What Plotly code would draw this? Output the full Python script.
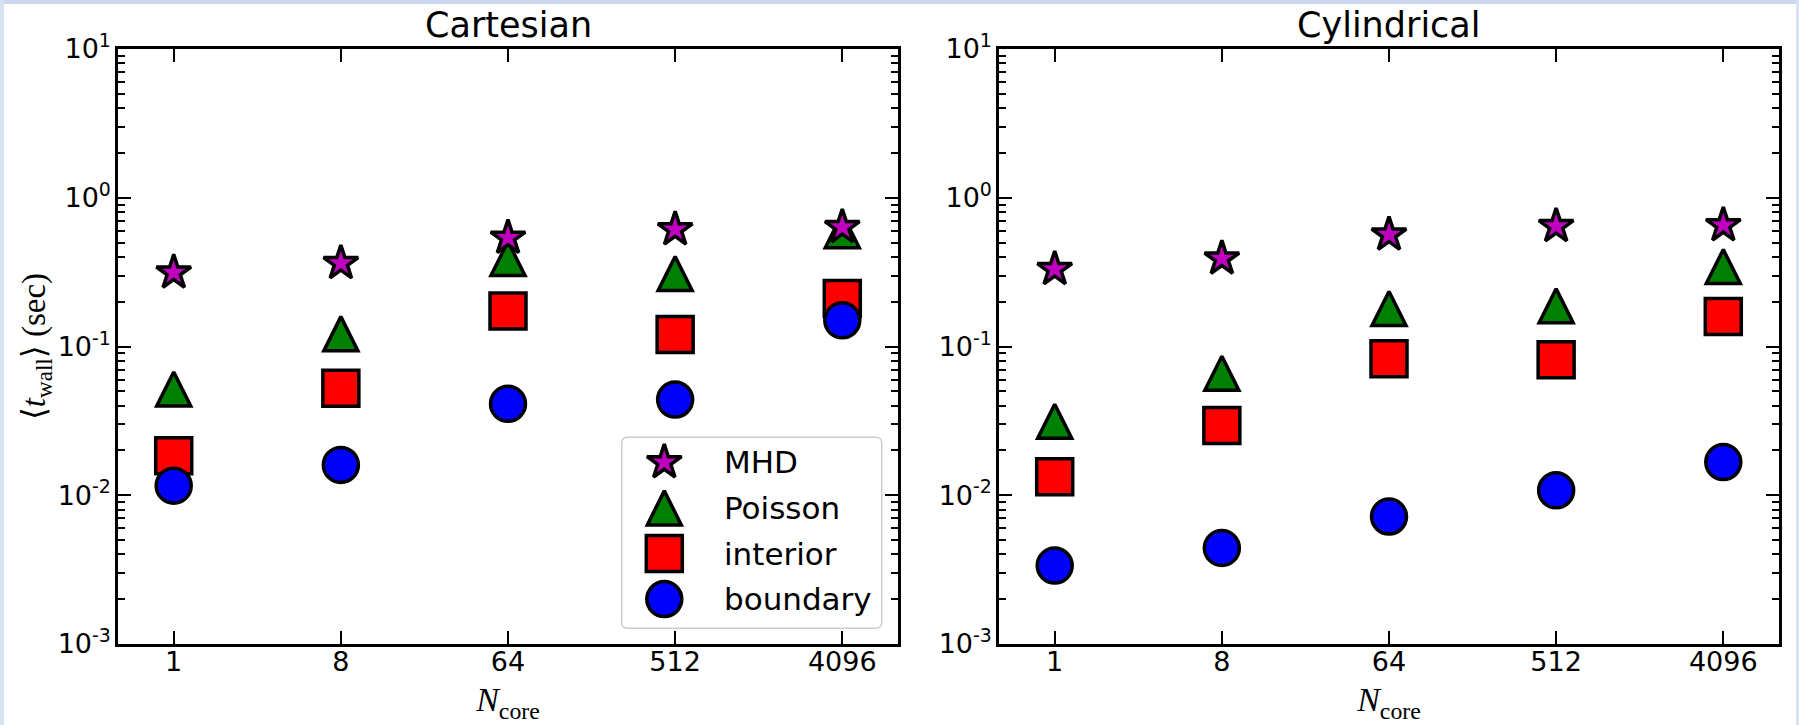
import math
import plotly.graph_objects as go

# ---------------- data ----------------
cores = [1, 8, 64, 512, 4096]
core_labels = ["1", "8", "64", "512", "4096"]
panel_titles = ["Cartesian", "Cylindrical"]
series_names = ["MHD", "Poisson", "interior", "boundary"]

cart_mhd = [0.314, 0.363, 0.538, 0.612, 0.634]
cart_poisson = [0.0518, 0.122, 0.39, 0.31, 0.60]
cart_interior = [0.0184, 0.0523, 0.173, 0.1205, 0.21]
cart_boundary = [0.0116, 0.0160, 0.0412, 0.0440, 0.150]

cyl_mhd = [0.331, 0.39, 0.565, 0.644, 0.653]
cyl_poisson = [0.0314, 0.066, 0.18, 0.188, 0.345]
cyl_interior = [0.0133, 0.0294, 0.0826, 0.0815, 0.159]
cyl_boundary = [0.00337, 0.00442, 0.00719, 0.0108, 0.0167]

y_tick_vals = [1e-3, 1e-2, 1e-1, 1e0, 1e1]
y_tick_text = ["10<sup>-3</sup>", "10<sup>-2</sup>", "10<sup>-1</sup>",
               "10<sup>0</sup>", "10<sup>1</sup>"]

# ---------------- layout constants ----------------
W, H = 1799, 725
ML, MR, MT, MB = 118, 20, 49, 81
PW = W - ML - MR
PH = H - MT - MB
PANEL_W = 780
GAP = PW - 2 * PANEL_W

SANS = "DejaVu Sans"
SERIF = "Liberation Serif, DejaVu Serif, serif"

styles = {
    "MHD": dict(symbol="star", color="#bf00bf", size=26),
    "Poisson": dict(symbol="arrow-down", color="#008000", size=34, angle=180, standoff=17),
    "interior": dict(symbol="square", color="#ff0000", size=36),
    "boundary": dict(symbol="circle", color="#0000ff", size=35),
}
draw_order = ["Poisson", "interior", "boundary", "MHD"]
EDGE_W = 3.5


def marker(name):
    s = styles[name]
    m = dict(symbol=s["symbol"], color=s["color"], size=s["size"],
             line=dict(color="black", width=EDGE_W))
    if "angle" in s:
        m["angle"] = s["angle"]
        m["standoff"] = s["standoff"]
    return m


def px_x(px):
    return (px - ML) / PW


def px_y(py):
    return (H - MB - py) / PH


panels = [
    dict(MHD=cart_mhd, Poisson=cart_poisson, interior=cart_interior, boundary=cart_boundary),
    dict(MHD=cyl_mhd, Poisson=cyl_poisson, interior=cyl_interior, boundary=cyl_boundary),
]

fig = go.Figure()
for p, pdata in enumerate(panels):
    xa = "x" if p == 0 else "x2"
    ya = "y" if p == 0 else "y2"
    for name in draw_order:
        fig.add_trace(go.Scatter(
            x=cores, y=pdata[name], mode="markers", name=name,
            marker=marker(name), xaxis=xa, yaxis=ya, showlegend=False,
            cliponaxis=False,
        ))

# custom legend (large keys like the reference)
LEG_L, LEG_T, LEG_W, LEG_H = 621.7, 437.3, 260, 191
LEG_MARK_X, LEG_TEXT_X, LEG_ROW0, LEG_ROW_STEP = 42.6, 100, 25, 45.6
for i, name in enumerate(series_names):
    fig.add_trace(go.Scatter(
        x=[LEG_MARK_X], y=[LEG_ROW0 + i * LEG_ROW_STEP], mode="markers",
        marker=marker(name), xaxis="x3", yaxis="y3", showlegend=False,
        hoverinfo="skip", cliponaxis=False,
    ))

annotations = []
for i, name in enumerate(series_names):
    annotations.append(dict(
        x=LEG_TEXT_X, y=LEG_ROW0 + i * LEG_ROW_STEP, xref="x3", yref="y3",
        text=name, showarrow=False, xanchor="left", yanchor="middle",
        font=dict(family=SANS, size=31, color="black"),
    ))

dom1 = [0, PANEL_W / PW]
dom2 = [(PANEL_W + GAP) / PW, 1]
for p, dom in enumerate([dom1, dom2]):
    annotations.append(dict(
        x=(dom[0] + dom[1]) / 2, y=1, xref="paper", yref="paper",
        text=panel_titles[p], showarrow=False, xanchor="center", yanchor="bottom",
        yshift=2, font=dict(family=SANS, size=35, color="black"),
    ))

minor_vals = [k * 10 ** e for e in range(-3, 1) for k in range(2, 10)]

xrange_log = [math.log10(0.5), math.log10(8192)]

common_x = dict(
    type="log", range=xrange_log, tickmode="array", tickvals=cores,
    ticktext=core_labels, ticks="inside", ticklen=13, tickwidth=2,
    tickcolor="black", showline=True, linewidth=2.5, linecolor="black",
    mirror="ticks", showgrid=False, zeroline=False,
    tickfont=dict(family=SANS, size=27, color="black"),
    ticklabelstandoff=-8,
    title=dict(text="<i>N</i><sub>core</sub>",
               font=dict(family=SERIF, size=34, color="black"), standoff=12),
)
common_y = dict(
    type="log", range=[-3, 1], tickmode="array", tickvals=y_tick_vals,
    ticktext=y_tick_text, ticks="inside", ticklen=13, tickwidth=2,
    tickcolor="black", showline=True, linewidth=2.5, linecolor="black",
    mirror="ticks", showgrid=False, zeroline=False,
    tickfont=dict(family=SANS, size=27, color="black"),
    ticklabelstandoff=-1,
    minor=dict(tickmode="array", tickvals=minor_vals, ticks="inside",
               ticklen=7, tickwidth=1.5, tickcolor="black", showgrid=False),
)

xaxis1 = dict(common_x, domain=dom1, anchor="y")
xaxis2 = dict(common_x, domain=dom2, anchor="y2")
yaxis1 = dict(common_y, domain=[0, 1], anchor="x",
              title=dict(text="⟨<i>t</i><sub>wall</sub>⟩ (sec)",
                         font=dict(family=SERIF, size=33, color="black"), standoff=3))
yaxis2 = dict(common_y, domain=[0, 1], anchor="x2")

xaxis3 = dict(domain=[px_x(LEG_L), px_x(LEG_L + LEG_W)], anchor="y3",
              range=[0, LEG_W], visible=False, fixedrange=True)
yaxis3 = dict(domain=[px_y(LEG_T + LEG_H), px_y(LEG_T)], anchor="x3",
              range=[LEG_H, 0], visible=False, fixedrange=True)

# legend frame (rounded)
r = 6
x0, x1 = px_x(LEG_L), px_x(LEG_L + LEG_W)
y0, y1 = px_y(LEG_T + LEG_H), px_y(LEG_T)
rx, ry = r / PW, r / PH
leg_path = (f"M{x0+rx},{y1} L{x1-rx},{y1} Q{x1},{y1} {x1},{y1-ry} "
            f"L{x1},{y0+ry} Q{x1},{y0} {x1-rx},{y0} L{x0+rx},{y0} "
            f"Q{x0},{y0} {x0},{y0+ry} L{x0},{y1-ry} Q{x0},{y1} {x0+rx},{y1} Z")

shapes = [
    dict(type="path", path=leg_path, xref="paper", yref="paper",
         line=dict(color="#cccccc", width=1.5), fillcolor="rgba(0,0,0,0)", layer="above"),
    # light blue page frame strips
    dict(type="rect", xref="paper", yref="paper", x0=px_x(0), x1=px_x(W),
         y0=px_y(4), y1=px_y(0), fillcolor="#c8d7ee", line=dict(width=0), layer="below"),
    dict(type="rect", xref="paper", yref="paper", x0=px_x(0), x1=px_x(4),
         y0=px_y(H), y1=px_y(0), fillcolor="#d6e1f3", line=dict(width=0), layer="below"),
    dict(type="rect", xref="paper", yref="paper", x0=px_x(W - 3), x1=px_x(W),
         y0=px_y(H), y1=px_y(0), fillcolor="#d6e1f3", line=dict(width=0), layer="below"),
]

fig.update_layout(
    width=W, height=H, autosize=False,
    margin=dict(l=ML, r=MR, t=MT, b=MB, pad=0),
    paper_bgcolor="white", plot_bgcolor="white",
    showlegend=False,
    xaxis=xaxis1, xaxis2=xaxis2, yaxis=yaxis1, yaxis2=yaxis2,
    xaxis3=xaxis3, yaxis3=yaxis3,
    annotations=annotations, shapes=shapes,
    font=dict(family=SANS, color="black"),
)

fig.write_html(
    "out.html",
    config={"displayModeBar": False},
    post_script="document.body.style.margin='0px';document.body.style.overflow='hidden';",
)
